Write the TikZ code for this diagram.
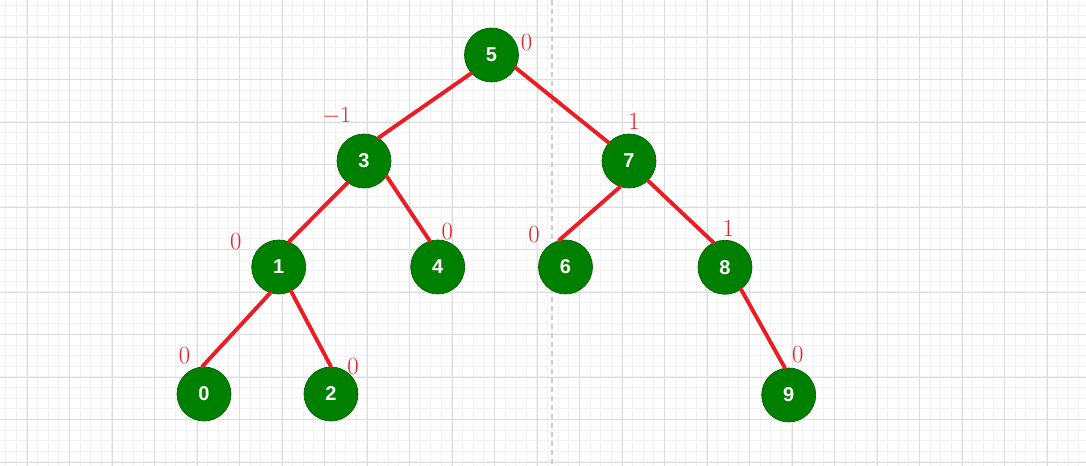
\documentclass[tikz,border=0pt]{standalone}
\usepackage{fontspec}
\newfontfamily\keyfont{Liberation Sans}
\definecolor{nodegreen}{RGB}{0,128,0}
\definecolor{nodeborder}{RGB}{0,96,0}
\definecolor{edgered}{RGB}{236,28,36}
\definecolor{minorgrid}{RGB}{242,242,242}
\definecolor{majorgrid}{RGB}{220,220,220}
\definecolor{midline}{RGB}{205,205,205}
\tikzset{
  treenode/.style={circle, fill=nodegreen, draw=nodeborder, line width=0.5pt,
    minimum size=40.5pt, inner sep=0pt, text=white,
    font=\keyfont\fontsize{15}{15}\selectfont\bfseries},
  balance/.style={text=edgered, inner sep=0pt, font=\fontsize{18.5}{18.5}\selectfont},
  treeedge/.style={edgered, line width=2.9pt, line cap=round},
}
\begin{document}
  \begin{tikzpicture}[x=0.75pt, y=-0.75pt]
    \useasboundingbox (0,0) rectangle (1086,466);
    % background grid
    \foreach \i in {0,...,102} \draw[minorgrid, line width=0.8pt] ({5.75+10.625*\i},0) -- ++(0,466);
    \foreach \i in {0,...,44} \draw[minorgrid, line width=0.8pt] (0,{5.125+10.625*\i}) -- ++(1086,0);
    \foreach \i in {0,...,25} \draw[majorgrid, line width=0.6pt] ({27+42.5*\i},0) -- ++(0,466);
    \foreach \i in {0,...,10} \draw[majorgrid, line width=0.6pt] (0,{37+42.5*\i}) -- ++(1086,0);
    \draw[midline, line width=1.5pt, dash pattern=on 3.75pt off 3pt] (551.7,0) -- (551.7,466);

    % tree nodes
    \node[treenode] (n5) at (491.5,55) {5};
    \node[treenode] (n3) at (364,161) {3};
    \node[treenode] (n7) at (629,161) {7};
    \node[treenode] (n1) at (278.7,267) {1};
    \node[treenode] (n4) at (437.7,267) {4};
    \node[treenode] (n6) at (565.5,267) {6};
    \node[treenode] (n8) at (725,267.3) {8};
    \node[treenode] (n0) at (204,394) {0};
    \node[treenode] (n2) at (331,394) {2};
    \node[treenode] (n9) at (788.7,395) {9};

    % edges
    \draw[treeedge] (n5.222) -- (n3.58);
    \draw[treeedge] (n5.332) -- (n7.138);
    \draw[treeedge] (n3.233) -- (n1.68);
    \draw[treeedge] (n3.326) -- (n4.107);
    \draw[treeedge] (n7.251) -- (n6.104);
    \draw[treeedge] (n7.314) -- (n8.115);
    \draw[treeedge] (n1.252) -- (n0.94);
    \draw[treeedge] (n1.297) -- (n2.90);
    \draw[treeedge] (n8.306) -- (n9.98);

    % balance factors
    \node[balance] (b5) at (526.5,43) {0};
    \node[balance] (b3) at (336.7,116.5) {$-1$};
    \node[balance] (b7) at (634,121) {1};
    \node[balance] (b1) at (235.7,242) {0};
    \node[balance] (b4) at (447.3,231.3) {0};
    \node[balance] (b6) at (534,234.5) {0};
    \node[balance] (b8) at (728.3,228.7) {1};
    \node[balance] (b0) at (184.5,355.3) {0};
    \node[balance] (b2) at (353,366.3) {0};
    \node[balance] (b9) at (797.8,355) {0};
  \end{tikzpicture}
\end{document}
